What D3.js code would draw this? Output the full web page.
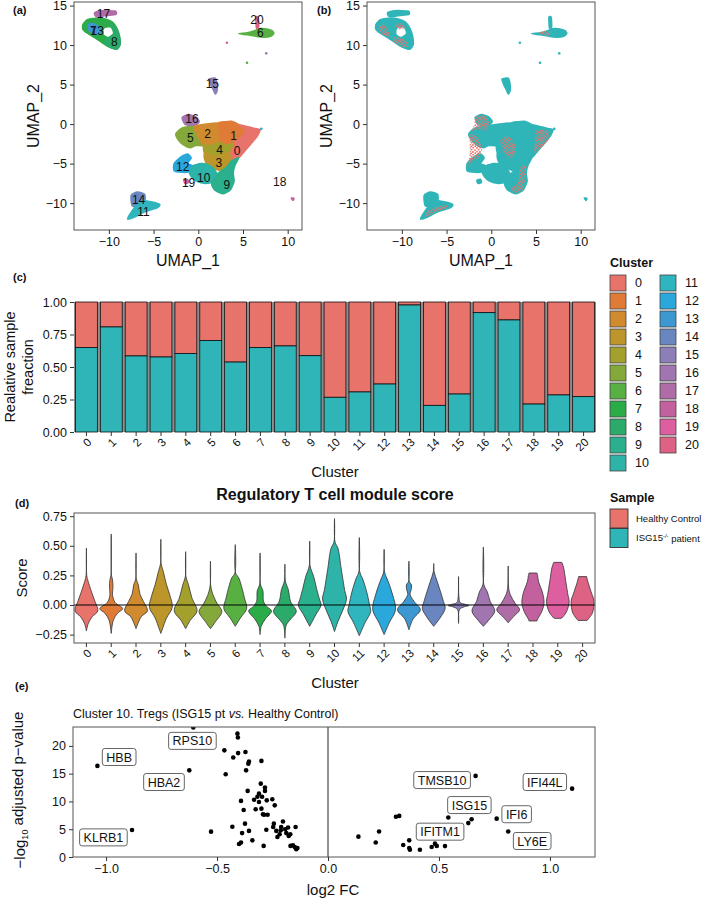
<!DOCTYPE html>
<html>
<head>
<meta charset="utf-8">
<script src="https://cdn.jsdelivr.net/npm/d3@7"></script>
<style>
  body { margin: 0; background: #fff; }
  text { font-family: "Liberation Sans", Arial, Helvetica, sans-serif; fill: #111; }
</style>
</head>
<body>
<script>
// size of the whole figure
var w = 709;
var h = 898;

// ---------------- data ----------------
var clusters = d3.range(21);
var clusterColors = ["#E8736B", "#E07B37", "#D08B2E", "#BC962B", "#A3A02E", "#84A83A", "#58B043",
  "#2BAC48", "#2BAA6A", "#2AB08D", "#2DB3A8", "#2FB5BE", "#2AA8DC", "#3D97D0", "#6A86C0",
  "#8C7FB8", "#A176B0", "#B06CA6", "#C3619F", "#DD5FA0", "#DD6283"];
var sampleNames = ["Healthy Control", "ISG15"];
var sampleColors = ["#E8736B", "#2FB5B8"];

// (c) fraction of cells from the ISG15-/- patient per cluster
var patientFraction = [0.649, 0.808, 0.585, 0.577, 0.603, 0.703, 0.538, 0.649, 0.662, 0.587,
  0.267, 0.308, 0.369, 0.977, 0.205, 0.292, 0.918, 0.862, 0.215, 0.285, 0.272];

// (d) violin outlines: [score, relative width]
var violinProfiles = [
  [[0.48,0],[0.25,0.03],[0.2,0.15],[0.11,0.45],[0.03,0.75],[-0.05,1.0],[-0.1,0.5],[-0.16,0.15],[-0.22,0]],
  [[0.6,0],[0.25,0.03],[0.21,0.12],[0.15,0.15],[0.08,0.12],[0.02,0.35],[-0.03,1.0],[-0.07,0.55],[-0.13,0.18],[-0.24,0]],
  [[0.44,0],[0.22,0.03],[0.17,0.2],[0.09,0.35],[0.03,0.65],[-0.05,1.0],[-0.1,0.45],[-0.2,0]],
  [[0.555,0],[0.35,0.03],[0.28,0.22],[0.17,0.5],[0.08,0.8],[-0.02,1.0],[-0.11,0.5],[-0.2,0.15],[-0.24,0]],
  [[0.45,0],[0.24,0.03],[0.17,0.25],[0.06,0.55],[-0.05,1.0],[-0.13,0.4],[-0.2,0]],
  [[0.37,0],[0.16,0.03],[0.08,0.25],[0.01,0.6],[-0.055,1.0],[-0.14,0.45],[-0.2,0]],
  [[0.51,0],[0.27,0.03],[0.23,0.3],[0.14,0.6],[0.06,0.8],[-0.03,1.0],[-0.11,0.45],[-0.18,0]],
  [[0.44,0],[0.17,0.05],[0.12,0.25],[0.03,0.3],[-0.01,0.55],[-0.05,1.0],[-0.12,0.45],[-0.18,0.1],[-0.25,0]],
  [[0.345,0],[0.2,0.05],[0.13,0.3],[0.03,0.5],[-0.055,1.0],[-0.12,0.5],[-0.17,0.12],[-0.28,0]],
  [[0.54,0],[0.33,0.04],[0.24,0.35],[0.14,0.6],[0.05,0.85],[0.0,1.0],[-0.08,0.55],[-0.18,0]],
  [[0.73,0],[0.53,0.05],[0.48,0.3],[0.3,0.6],[0.12,0.9],[0.05,1.05],[-0.05,0.7],[-0.14,0.3],[-0.225,0]],
  [[0.57,0],[0.28,0.04],[0.22,0.3],[0.11,0.65],[0.0,0.9],[-0.055,1.0],[-0.15,0.5],[-0.26,0]],
  [[0.47,0],[0.28,0.04],[0.2,0.35],[0.085,0.75],[-0.04,1.0],[-0.15,0.45],[-0.25,0]],
  [[0.37,0],[0.2,0.03],[0.17,0.22],[0.13,0.2],[0.09,0.1],[0.03,0.45],[-0.04,1.0],[-0.12,0.35],[-0.21,0]],
  [[0.35,0],[0.28,0.04],[0.2,0.3],[0.11,0.6],[0.03,0.85],[-0.03,1.0],[-0.11,0.55],[-0.18,0]],
  [[0.24,0],[0.06,0.04],[0.02,0.15],[0.005,0.6],[-0.005,0.9],[-0.015,0.5],[-0.04,0.08],[-0.155,0]],
  [[0.49,0],[0.17,0.05],[0.11,0.35],[0.03,0.6],[-0.05,1.0],[-0.13,0.45],[-0.18,0]],
  [[0.33,0],[0.14,0.05],[0.085,0.2],[0.015,0.6],[-0.04,1.0],[-0.1,0.45],[-0.15,0]],
  [[0.27,0.35],[0.25,0.4],[0.2,0.48],[0.1,0.85],[0.015,0.97],[-0.06,0.75],[-0.12,0.4],[-0.135,0.35]],
  [[0.36,0.35],[0.32,0.5],[0.2,0.7],[0.08,0.9],[0.03,1.0],[-0.06,0.75],[-0.11,0.35],[-0.113,0.3]],
  [[0.24,0.35],[0.2,0.45],[0.11,0.75],[0.03,1.0],[-0.07,0.85],[-0.13,0.4]]
];

// (e) differential expression, cluster 10
var deFC = [-1.039,-0.883,-0.625,-0.607,-0.527,-0.467,-0.461,-0.431,-0.427,-0.408,-0.406,-0.405,-0.401,
  -0.392,-0.392,-0.387,-0.380,-0.374,-0.372,-0.369,-0.362,-0.359,-0.356,-0.356,-0.341,-0.333,-0.326,
  -0.318,-0.311,-0.311,-0.303,-0.300,-0.300,-0.297,-0.293,-0.290,-0.288,-0.284,-0.284,-0.278,-0.276,
  -0.272,-0.251,-0.247,-0.244,-0.240,-0.233,-0.228,-0.218,-0.213,-0.211,-0.203,-0.193,-0.188,-0.180,
  -0.177,-0.170,-0.169,-0.158,-0.146,-0.150,-0.143,-0.138,
  0.137,0.215,0.230,0.306,0.321,0.339,0.366,0.366,0.369,0.414,0.467,0.482,0.490,0.527,0.542,0.632,
  0.647,0.665,0.760,0.812,1.100];
var deP = [16.4,4.86,15.6,23.3,4.56,19.2,14.9,5.45,17.9,22.2,21.5,18.7,2.34,
  2.6,10.1,4.3,8.45,6.0,18.9,15.6,11.9,16.8,17.2,4.7,3.0,10.3,8.6,
  10.85,9.9,11.4,13.2,17.3,8.7,10.85,7.7,2.0,7.6,12.5,11.9,4.9,10.2,
  7.6,10.4,5.4,6.0,9.3,4.7,3.6,4.1,4.8,5.4,6.4,5.0,4.3,5.3,
  3.8,4.1,2.0,2.1,5.4,1.8,1.4,1.6,
  3.66,2.6,4.6,7.25,7.4,2.15,3.0,1.6,1.3,1.3,1.8,2.4,2.0,1.96,7.1,6.1,
  6.8,14.6,6.9,4.6,12.3];
var labelGenes = ["HBB", "RPS10", "HBA2", "KLRB1", "TMSB10", "IFI44L", "ISG15", "IFI6", "IFITM1", "LY6E"];
var labelFC = [-0.941, -0.611, -0.739, -1.012, 0.514, 0.977, 0.637, 0.85, 0.505, 0.92];
var labelP = [18.0, 20.9, 13.5, 3.53, 13.85, 13.5, 9.35, 7.7, 4.56, 2.88];

// (a)/(b) UMAP cluster outlines, in UMAP units
var umapPolys = [
  [7, [[-12.9,12.6],[-12.4,13.2],[-11.4,13.4],[-10.4,13.3],[-9.6,12.9],[-9.1,12.1],[-8.8,11.1],[-8.75,10.1],[-9.1,9.5],[-9.8,9.7],[-10.6,10.2],[-11.5,10.9],[-12.4,11.5],[-12.9,12.0]]],
  [8, [[-9.8,12.7],[-9.2,12.0],[-8.85,11.1],[-8.75,10.1],[-9.1,9.5],[-9.8,9.7],[-10.5,10.2],[-10.1,11.0],[-9.5,11.4],[-9.6,12.1]]],
  [13, [[-12.3,12.6],[-11.7,12.7],[-11.0,12.2],[-11.0,11.5],[-11.6,11.4],[-12.2,11.8]]],
  [17, [[-11.6,14.1],[-10.8,14.35],[-9.3,14.3],[-9.2,13.9],[-10.2,13.75],[-11.4,13.6]]],
  [6, [[4.5,11.45],[5.5,11.55],[6.3,11.8],[6.8,12.05],[7.5,12.05],[8.2,11.85],[8.45,11.5],[8.1,11.1],[7.3,11.0],[6.5,11.1],[5.5,11.3]]],
  [20, [[6.45,13.5],[6.7,13.5],[6.75,12.3],[6.5,12.2]]],
  [15, [[1.2,5.7],[1.9,5.8],[2.1,5.0],[2.1,4.2],[1.9,3.8],[1.7,4.3],[1.4,5.0]]],
  [16, [[-1.8,0.85],[-1.1,1.2],[-0.3,0.9],[0.1,0.3],[-0.5,-0.3],[-1.5,0.0]]],
  [5, [[-2.5,-1.2],[-1.8,-0.5],[-0.5,-0.35],[0.0,-1.6],[0.6,-2.7],[-0.3,-2.7],[-0.9,-3.0],[-1.7,-2.6],[-2.3,-1.9]]],
  [2, [[-0.5,-0.35],[0.3,-0.1],[1.2,0.05],[2.2,0.1],[2.4,-1.0],[2.4,-2.3],[1.6,-2.7],[0.6,-2.7],[0.0,-1.6]]],
  [1, [[2.2,0.1],[3.0,0.3],[3.7,0.35],[4.6,-0.1],[5.3,-0.7],[4.9,-1.6],[3.9,-2.5],[3.0,-2.7],[2.4,-2.3],[2.4,-1.0]]],
  [0, [[4.6,-0.1],[5.6,-0.35],[6.3,-0.55],[6.9,-0.7],[6.6,-1.5],[5.9,-2.5],[5.2,-3.4],[4.5,-4.3],[3.7,-4.7],[3.4,-3.6],[3.9,-2.5],[4.9,-1.6],[5.3,-0.7]]],
  [4, [[0.6,-2.7],[1.6,-2.7],[2.4,-2.3],[3.0,-2.7],[3.9,-2.5],[3.4,-3.6],[2.6,-4.0],[1.5,-4.0],[0.7,-3.6]]],
  [3, [[0.7,-3.6],[1.5,-4.0],[2.6,-4.0],[3.4,-3.6],[3.7,-4.7],[3.2,-5.4],[2.6,-5.9],[1.7,-5.6],[1.0,-5.1],[0.7,-4.4]]],
  [12, [[-2.7,-5.9],[-2.7,-5.0],[-2.0,-4.2],[-1.2,-3.8],[-0.8,-4.3],[-1.2,-5.0],[-0.6,-5.3],[-1.0,-6.0],[-1.8,-6.1]]],
  [10, [[-0.6,-5.3],[0.3,-5.0],[1.0,-5.1],[1.7,-5.6],[2.1,-6.4],[1.7,-7.3],[0.8,-7.5],[-0.2,-7.2],[-0.8,-6.6],[-1.0,-6.0]]],
  [9, [[2.6,-5.9],[3.2,-5.4],[3.7,-4.7],[4.5,-4.3],[4.1,-5.2],[3.9,-6.2],[4.0,-7.2],[3.6,-8.3],[2.8,-8.8],[1.9,-8.4],[1.5,-7.6],[2.1,-6.4]]],
  [19, [[-1.6,-7.1],[-1.2,-7.0],[-1.1,-7.4],[-1.5,-7.5]]],
  [14, [[-7.5,-9.0],[-6.8,-8.6],[-6.0,-8.9],[-6.0,-9.8],[-6.6,-10.5],[-7.4,-10.3]]],
  [11, [[-7.9,-12.0],[-7.4,-11.0],[-6.8,-10.2],[-6.0,-9.7],[-5.0,-9.9],[-4.3,-10.2],[-4.6,-10.6],[-6.0,-11.1],[-7.2,-11.8]]],
  [18, [[10.4,-9.35],[10.7,-9.4],[10.6,-9.65]]]
];
var umapHoles = [[[-10.5,12.1],[-9.8,12.2],[-9.55,11.5],[-10.1,11.05],[-10.6,11.4]]];
var umapSpecks = [[19, 3.2, 10.3], [16, 7.6, 8.95], [6, 5.45, 7.75], [12, 7.05, -0.6]];
// where healthy-control cells show through in (b)
var healthyPatches = [
  [[-12.6,12.4],[-12.0,12.6],[-11.5,11.8],[-11.3,11.0],[-11.9,11.2],[-12.5,11.8]],
  [[-11.0,10.9],[-10.2,11.0],[-9.5,10.5],[-9.3,9.8],[-10.0,9.8],[-10.8,10.3]],
  [[-10.8,12.6],[-10.0,12.8],[-9.6,12.2],[-10.4,12.0]],
  [[5.4,11.6],[6.0,11.8],[6.6,11.6],[6.4,11.2],[5.6,11.3]],
  [[-1.8,0.9],[-0.8,1.1],[-0.2,0.3],[-0.6,-0.8],[-1.6,-0.6],[-2.2,-0.9],[-1.9,0.0]],
  [[-2.4,-1.3],[-1.6,-1.6],[-1.0,-3.0],[-1.4,-4.2],[-2.2,-4.8],[-2.6,-5.4],[-2.4,-3.5]],
  [[5.0,-0.8],[6.3,-0.8],[6.4,-2.0],[5.4,-3.2],[4.8,-3.6],[4.9,-2.0]],
  [[3.2,-5.6],[3.9,-5.2],[3.8,-6.6],[3.6,-8.2],[2.8,-8.7],[2.2,-8.2],[3.0,-7.4]],
  [[1.0,-2.0],[2.0,-1.6],[2.8,-3.0],[2.2,-4.4],[1.4,-3.6]],
  [[-7.4,-11.2],[-6.2,-10.5],[-4.8,-10.2],[-5.0,-10.6],[-6.4,-11.2],[-7.2,-11.7]]
];
var clusterLabelX = [4.33, 3.95, 1.04, 2.31, 2.38, -0.9, 6.93, -11.75, -9.4, 3.2, 0.6, -6.12, -1.75, -11.3, -6.68, 1.57, -0.7, -10.6, 9.1, -1.08, 6.57];
var clusterLabelY = [-3.38, -1.52, -1.27, -4.85, -3.2, -1.7, 11.5, 11.8, 10.4, -7.72, -6.8, -11.1, -5.4, 11.75, -9.6, 5.06, 0.72, 13.9, -7.3, -7.43, 13.25];

// tick values
var umapTicksX = [-10, -5, 0, 5, 10];
var umapTicksY = [-10, -5, 0, 5, 10, 15];
var fracTicks = [0, 0.25, 0.5, 0.75, 1];
var scoreTicks = [-0.25, 0, 0.25, 0.5, 0.75];
var fcTicks = [-1, -0.5, 0, 0.5, 1];
var pTicks = [0, 5, 10, 15, 20];

// ---------------- drawing ----------------
var svg = d3.select("body")
  .append("svg")
  .attr("width", w)
  .attr("height", h);

// speckle texture for the healthy-control cells in (b)
var defs = svg.append("defs");
var pat = defs.append("pattern")
  .attr("id", "hcDots")
  .attr("patternUnits", "userSpaceOnUse")
  .attr("width", 7).attr("height", 7);
[[0.8,0.9],[4.2,0.5],[2.6,2.6],[5.9,3.1],[1.0,4.6],[3.9,5.0],[6.3,6.2],[2.2,6.5]].forEach(function(p) {
  pat.append("circle").attr("cx", p[0]).attr("cy", p[1]).attr("r", 0.95).attr("fill", sampleColors[0]);
});

var borderCol = "#555";

function styleAxis(g, size) {
  g.selectAll("text").attr("font-size", size).attr("fill", "#222")
    .attr("font-family", "Liberation Sans, Arial, sans-serif");
  g.selectAll("line").attr("stroke", "#333");
  g.select(".domain").remove();
}

function panelLabel(txt, x, y) {
  svg.append("text").attr("x", x).attr("y", y).attr("font-size", 11)
    .attr("font-weight", "bold").text(txt);
}

// ---- (a) and (b) UMAP ----
function drawUmap(x0, x1, colorBySample) {
  var x = d3.scaleLinear().domain([-13.9, 11.6]).range([x0, x1]);
  var y = d3.scaleLinear().domain([-13.4, 15.45]).range([230, 2]);
  var blob = d3.line().x(function(d) { return x(d[0]); }).y(function(d) { return y(d[1]); })
    .curve(d3.curveCardinalClosed.tension(0.4));
  var g = svg.append("g");

  umapPolys.forEach(function(p) {
    var col = colorBySample ? sampleColors[1] : clusterColors[p[0]];
    g.append("path").attr("d", blob(p[1]))
      .attr("fill", col).attr("stroke", col).attr("stroke-width", 1.6)
      .attr("stroke-linejoin", "round");
  });
  umapHoles.forEach(function(p) {
    g.append("path").attr("d", blob(p)).attr("fill", "#fff");
  });
  if (colorBySample) {
    healthyPatches.forEach(function(p) {
      g.append("path").attr("d", blob(p)).attr("fill", "url(#hcDots)");
    });
  }
  umapSpecks.forEach(function(s) {
    g.append("circle").attr("cx", x(s[1])).attr("cy", y(s[2])).attr("r", 1.3)
      .attr("fill", colorBySample ? sampleColors[1] : clusterColors[s[0]]);
  });
  if (!colorBySample) {
    clusters.forEach(function(c) {
      g.append("text").attr("x", x(clusterLabelX[c])).attr("y", y(clusterLabelY[c]))
        .attr("dy", "0.35em").attr("text-anchor", "middle").attr("font-size", 12)
        .text(c);
    });
  }
  g.append("rect").attr("x", x0).attr("y", 2).attr("width", x1 - x0).attr("height", 228)
    .attr("fill", "none").attr("stroke", borderCol);

  var ax = svg.append("g").attr("transform", "translate(0,230)")
    .call(d3.axisBottom(x).tickValues(umapTicksX).tickSize(4).tickPadding(3));
  styleAxis(ax, 12.5);
  var ay = svg.append("g").attr("transform", "translate(" + x0 + ",0)")
    .call(d3.axisLeft(y).tickValues(umapTicksY).tickSize(4).tickPadding(3));
  styleAxis(ay, 12.5);

  svg.append("text").attr("x", (x0 + x1) / 2).attr("y", 266).attr("text-anchor", "middle")
    .attr("font-size", 16).text("UMAP_1");
  svg.append("text").attr("transform", "translate(" + (x0 - 35) + ",116) rotate(-90)")
    .attr("text-anchor", "middle").attr("font-size", 16).text("UMAP_2");
}
drawUmap(74, 302, false);
drawUmap(367, 595, true);
panelLabel("(a)", 13, 14);
panelLabel("(b)", 317, 14);

// ---- (c) stacked fractions ----
var xC = d3.scaleBand().domain(clusters).range([74, 596]).paddingInner(0.12).paddingOuter(0.06);
var yC = d3.scaleLinear().domain([0, 1]).range([432, 302]);
svg.append("rect").attr("x", 74).attr("y", 302).attr("width", 522).attr("height", 130).attr("fill", "#8e8e8e");
var barG = svg.append("g");
clusters.forEach(function(c) {
  barG.append("rect").attr("x", xC(c)).attr("width", xC.bandwidth())
    .attr("y", yC(1)).attr("height", yC(patientFraction[c]) - yC(1))
    .attr("fill", sampleColors[0]).attr("stroke", "#111").attr("stroke-width", 0.8);
  barG.append("rect").attr("x", xC(c)).attr("width", xC.bandwidth())
    .attr("y", yC(patientFraction[c])).attr("height", yC(0) - yC(patientFraction[c]))
    .attr("fill", sampleColors[1]).attr("stroke", "#111").attr("stroke-width", 0.8);
});
var cyAx = svg.append("g").attr("transform", "translate(74,0)")
  .call(d3.axisLeft(yC).tickValues(fracTicks).tickFormat(d3.format(".2f")).tickSize(4).tickPadding(3));
styleAxis(cyAx, 12.5);

function rotatedClusterAxis(scale, y0) {
  var g = svg.append("g");
  clusters.forEach(function(c) {
    var cx = scale(c) + scale.bandwidth() / 2;
    g.append("line").attr("x1", cx).attr("x2", cx).attr("y1", y0).attr("y2", y0 + 4).attr("stroke", "#333");
    g.append("text").attr("transform", "translate(" + (cx + 3) + "," + (y0 + 8) + ") rotate(-45)")
      .attr("text-anchor", "end").attr("dy", "0.35em").attr("font-size", 11.5).attr("fill", "#222").text(c);
  });
}
rotatedClusterAxis(xC, 432);
svg.append("text").attr("x", 335).attr("y", 477).attr("text-anchor", "middle").attr("font-size", 15).text("Cluster");
svg.append("text").attr("transform", "translate(15,367) rotate(-90)").attr("text-anchor", "middle")
  .attr("font-size", 14.5).text("Realative sample");
svg.append("text").attr("transform", "translate(33,367) rotate(-90)").attr("text-anchor", "middle")
  .attr("font-size", 14.5).text("freaction");
panelLabel("(c)", 13, 281);

// cluster legend
svg.append("text").attr("x", 610).attr("y", 267).attr("font-size", 12.5).attr("font-weight", "bold").text("Cluster");
clusters.forEach(function(c) {
  var col = c < 11 ? 0 : 1;
  var row = c < 11 ? c : c - 11;
  var lx = 610 + col * 50, ly = 275 + row * 18;
  svg.append("rect").attr("x", lx).attr("y", ly).attr("width", 16).attr("height", 16)
    .attr("fill", clusterColors[c]).attr("stroke", "#444").attr("stroke-width", 0.8);
  svg.append("text").attr("x", lx + 25).attr("y", ly + 8).attr("dy", "0.35em").attr("font-size", 12.5).text(c);
});

// ---- (d) violins ----
var xD = d3.scaleBand().domain(clusters).range([74, 595]);
var yD = d3.scaleLinear().domain([-0.321, 0.777]).range([643, 513]);
var hw = xD.bandwidth() * 0.46;
var violinG = svg.append("g");
clusters.forEach(function(c) {
  var cx = xD(c) + xD.bandwidth() / 2;
  var area = d3.area()
    .y(function(d) { return yD(d[0]); })
    .x0(function(d) { return cx - d[1] * hw; })
    .x1(function(d) { return cx + d[1] * hw; })
    .curve(d3.curveCatmullRom.alpha(0.5));
  violinG.append("path").attr("d", area(violinProfiles[c]))
    .attr("fill", clusterColors[c]).attr("stroke", "#333").attr("stroke-width", 0.8);
});
svg.append("line").attr("x1", 74).attr("x2", 595).attr("y1", yD(0)).attr("y2", yD(0))
  .attr("stroke", "#000").attr("stroke-width", 1);
svg.append("rect").attr("x", 74).attr("y", 513).attr("width", 521).attr("height", 130)
  .attr("fill", "none").attr("stroke", borderCol);
var dyAx = svg.append("g").attr("transform", "translate(74,0)")
  .call(d3.axisLeft(yD).tickValues(scoreTicks).tickFormat(d3.format(".2f")).tickSize(4).tickPadding(3));
styleAxis(dyAx, 12.5);
rotatedClusterAxis(xD, 643);
svg.append("text").attr("x", 335).attr("y", 500).attr("text-anchor", "middle").attr("font-size", 16)
  .attr("font-weight", "bold").text("Regulatory T cell module score");
svg.append("text").attr("x", 335).attr("y", 688).attr("text-anchor", "middle").attr("font-size", 15).text("Cluster");
svg.append("text").attr("transform", "translate(27,578) rotate(-90)").attr("text-anchor", "middle")
  .attr("font-size", 15).text("Score");
panelLabel("(d)", 15, 507);

// sample legend
svg.append("text").attr("x", 610).attr("y", 502).attr("font-size", 12.5).attr("font-weight", "bold").text("Sample");
sampleNames.forEach(function(s, i) {
  var ly = 509 + i * 19.5;
  svg.append("rect").attr("x", 610).attr("y", ly).attr("width", 18).attr("height", 19)
    .attr("fill", sampleColors[i]).attr("stroke", "#333").attr("stroke-width", 0.9);
  var t = svg.append("text").attr("x", 636).attr("y", ly + 9.5).attr("dy", "0.35em").attr("font-size", 9.5);
  t.append("tspan").text(s);
  if (i == 1) {
    t.append("tspan").attr("font-size", 6).attr("dy", "-0.6em").text("-/-");
    t.append("tspan").attr("dy", "0.45em").text(" patient");
  }
});

// ---- (e) volcano ----
var xE = d3.scaleLinear().domain([-1.149, 1.203]).range([73, 595]);
var yE = d3.scaleLinear().domain([0, 23.4]).range([857, 727]);
svg.append("line").attr("x1", xE(0)).attr("x2", xE(0)).attr("y1", 727).attr("y2", 857)
  .attr("stroke", "#222").attr("stroke-width", 1);
svg.append("defs").append("clipPath").attr("id", "clipE")
  .append("rect").attr("x", 73).attr("y", 727).attr("width", 522).attr("height", 130);
var dotG = svg.append("g").attr("clip-path", "url(#clipE)");
deFC.forEach(function(fc, i) {
  dotG.append("circle").attr("cx", xE(fc)).attr("cy", yE(deP[i])).attr("r", 2.3).attr("fill", "#000");
});
labelGenes.forEach(function(gname, i) {
  var t = svg.append("text").attr("x", xE(labelFC[i])).attr("y", yE(labelP[i])).attr("dy", "0.36em")
    .attr("text-anchor", "middle").attr("font-size", 12.5).text(gname);
  var tw = t.node().getComputedTextLength();
  svg.insert("rect", function() { return t.node(); })
    .attr("x", xE(labelFC[i]) - tw / 2 - 4).attr("y", yE(labelP[i]) - 8.5)
    .attr("width", tw + 8).attr("height", 17).attr("rx", 2.5)
    .attr("fill", "#fff").attr("stroke", "#555").attr("stroke-width", 0.9);
});
svg.append("rect").attr("x", 73).attr("y", 727).attr("width", 522).attr("height", 130)
  .attr("fill", "none").attr("stroke", borderCol);
var exAx = svg.append("g").attr("transform", "translate(0,857)")
  .call(d3.axisBottom(xE).tickValues(fcTicks).tickFormat(d3.format(".1f")).tickSize(4).tickPadding(3));
styleAxis(exAx, 12.5);
var eyAx = svg.append("g").attr("transform", "translate(73,0)")
  .call(d3.axisLeft(yE).tickValues(pTicks).tickSize(4).tickPadding(3));
styleAxis(eyAx, 12.5);

var title = svg.append("text").attr("x", 73).attr("y", 718).attr("font-size", 12.5);
title.append("tspan").text("Cluster 10. Tregs (ISG15 pt ");
title.append("tspan").attr("font-style", "italic").text("vs.");
title.append("tspan").text(" Healthy Control)");
svg.append("text").attr("x", 333).attr("y", 895).attr("text-anchor", "middle").attr("font-size", 15).text("log2 FC");
var ylab = svg.append("text").attr("transform", "translate(25,790) rotate(-90)").attr("text-anchor", "middle")
  .attr("font-size", 15);
ylab.append("tspan").text("\u2212log");
ylab.append("tspan").attr("font-size", 9).attr("dy", "0.35em").text("10");
ylab.append("tspan").attr("dy", "-0.35em").text(" adjusted p\u2212value");
panelLabel("(e)", 15, 690);
</script>
</body>
</html>
